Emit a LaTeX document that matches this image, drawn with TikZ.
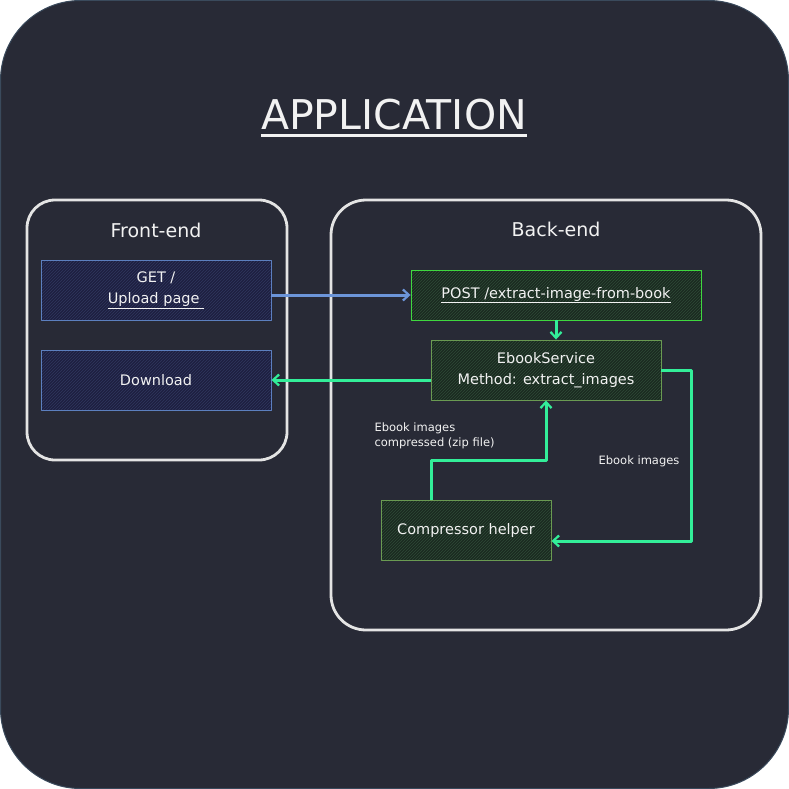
\documentclass[tikz,border=0pt]{standalone}
\usepackage{fontspec}
\setmainfont{DejaVu Sans}
\usetikzlibrary{arrows.meta,patterns}
\definecolor{appbg}{HTML}{282A36}
\definecolor{appline}{HTML}{3A4A5C}
\definecolor{fg}{HTML}{F2F2F2}
\definecolor{groupline}{HTML}{E4E4E4}
\definecolor{pagefill}{HTML}{1E2040}
\definecolor{pagehatch}{HTML}{30365E}
\definecolor{pageline}{HTML}{5C7FBF}
\definecolor{apifill}{HTML}{1B2A21}
\definecolor{apihatch}{HTML}{2E4A36}
\definecolor{apiline}{HTML}{3FD83F}
\definecolor{svcline}{HTML}{6A9A52}
\definecolor{flowblue}{HTML}{6C95D9}
\definecolor{flowgreen}{HTML}{33EE99}

\begin{document}
\begin{tikzpicture}[x=1pt,y=-1pt,line join=round]
   \useasboundingbox (0,0) rectangle (789,789);
   \tikzstyle{group}=[draw=groupline, line width=2.8pt, rounded corners=28pt, minimum width=260pt, minimum height=260pt]
   \tikzstyle{grouplabel}=[text=fg, font=\fontsize{19}{22}\selectfont]
   \tikzstyle{page}=[preaction={fill=pagefill}, pattern=north east lines, pattern color=pagehatch, draw=pageline, line width=0.9pt, minimum width=230pt, minimum height=60pt, text=fg, align=center, font=\fontsize{14.5}{21}\selectfont]
   \tikzstyle{api}=[page, preaction={fill=apifill}, pattern color=apihatch, draw=apiline]
   \tikzstyle{service}=[api, draw=svcline]
   \tikzstyle{flow}=[-{Straight Barb[length=6pt,width=11pt,line width=2.2pt]}, line width=3pt, flowgreen]
   \tikzstyle{note}=[text=fg, align=left, font=\fontsize{11.5}{15}\selectfont]
   % application frame
   \fill[appbg, draw=appline, line width=1pt, rounded corners=80pt] (0.5,0.5) rectangle (788.5,788.5);
   \node[text=fg, inner sep=0pt, font=\fontsize{41}{44}\selectfont] (title) at (394,115) {APPLICATION};
   \draw[fg, line width=3pt] ([yshift=-6pt]title.base west) -- ([yshift=-6pt]title.base east);
   % front-end
   \node[group] (front) at (157,330) {};
   \node[grouplabel] (frontlabel) at (156,230) {Front-end};
   \node[page] (get) at (156,290) {GET /\\\underline{Upload page~}};
   \node[page] (download) at (156,380) {Download};
   % back-end
   \node[group, rounded corners=35pt, minimum width=430pt, minimum height=430pt] (back) at (546,415) {};
   \node[grouplabel] (backlabel) at (556,229) {Back-end};
   \node[api, minimum width=290pt, minimum height=50pt] (post) at (556,295) {\underline{POST /extract-image-from-book}};
   \node[service] (ebook) at (546,370) {EbookService\\Method: extract\_images};
   \node[service, minimum width=170pt] (compressor) at (466,530) {Compressor helper};
   % flows
   \draw[flow, flowblue] (get.east |- post.west) -- (post.west);
   \draw[flow] (ebook.west |- download) -- (download.east);
   \draw[flow] (post.south) -- (post.south |- ebook.north);
   \coordinate (imgturn) at (691,541);
   \draw[flow] (ebook.east) -| (imgturn) -- (compressor.east |- imgturn);
   \node[note] (imglabel) at (639,461) {Ebook images};
   \coordinate (zipturn) at (431,460);
   \draw[flow] (compressor.north -| zipturn) -- (zipturn) -| (ebook.south);
   \node[note, anchor=west] (ziplabel) at (371,436) {Ebook images\\compressed (zip file)};
\end{tikzpicture}
\end{document}
